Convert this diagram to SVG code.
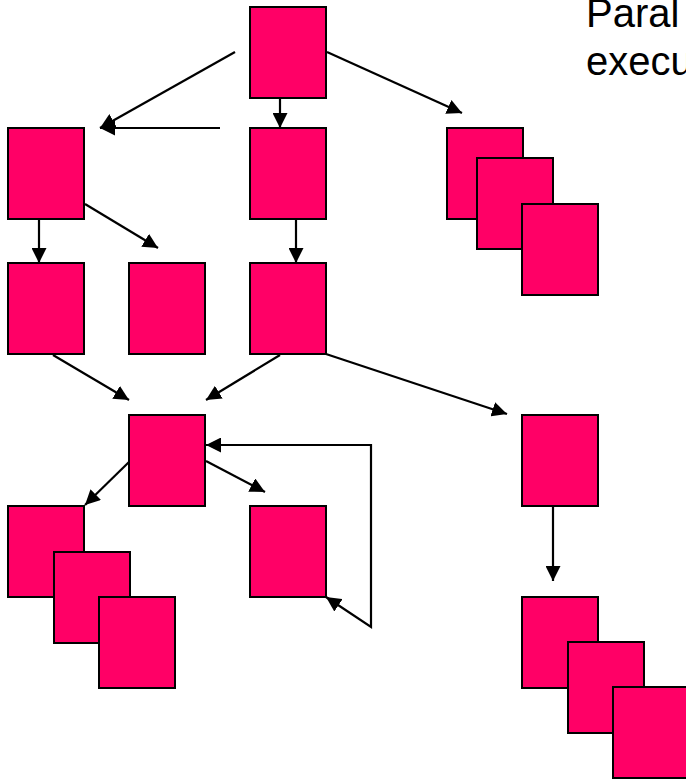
<svg xmlns="http://www.w3.org/2000/svg" width="686" height="780" viewBox="0 0 686 780">
  <style>
    .box { fill: #FF0066; stroke: #000; stroke-width: 2; }
    .edge { fill: none; stroke: #000; stroke-width: 2.2; }
    .label { font-family: "Liberation Sans", Arial, sans-serif; font-size: 40px; fill: #000; }
  </style>
  <defs>
    <marker id="arrow" markerUnits="userSpaceOnUse" markerWidth="16" markerHeight="15" refX="15" refY="7.5" orient="auto-start-reverse">
      <path d="M0,0 L15,7.5 L0,15 Z" fill="#000"/>
    </marker>
  </defs>
  <rect width="686" height="780" fill="#fff"/>

  <!-- title, running off the right edge -->
  <text class="label" x="586" y="27">Paral</text>
  <text class="label" x="586" y="75">execu</text>

  <!-- connectors -->
  <g id="connectors">
    <line class="edge" x1="235" y1="52" x2="100" y2="128" marker-end="url(#arrow)"/>
    <line class="edge" x1="220" y1="128" x2="100" y2="128" marker-end="url(#arrow)"/>
    <line class="edge" x1="280" y1="98" x2="280" y2="128" marker-end="url(#arrow)"/>
    <line class="edge" x1="327" y1="52" x2="462" y2="113" marker-end="url(#arrow)"/>
    <line class="edge" x1="39" y1="219" x2="39" y2="263" marker-end="url(#arrow)"/>
    <line class="edge" x1="85" y1="204" x2="158" y2="248" marker-end="url(#arrow)"/>
    <line class="edge" x1="296" y1="219" x2="296" y2="263" marker-end="url(#arrow)"/>
    <line class="edge" x1="53" y1="355" x2="129" y2="400" marker-end="url(#arrow)"/>
    <line class="edge" x1="280" y1="355" x2="206" y2="400" marker-end="url(#arrow)"/>
    <line class="edge" x1="326" y1="354" x2="507" y2="414" marker-end="url(#arrow)"/>
    <line class="edge" x1="129" y1="462" x2="85" y2="505" marker-end="url(#arrow)"/>
    <line class="edge" x1="206" y1="461" x2="265" y2="492" marker-end="url(#arrow)"/>
    <path class="edge" d="M326,597 L371,627 L371,445 L206,445" marker-start="url(#arrow)" marker-end="url(#arrow)"/>
    <line class="edge" x1="553" y1="506" x2="553" y2="581" marker-end="url(#arrow)"/>
  </g>

  <!-- nodes -->
  <g id="root"><rect class="box" x="250" y="7" width="76" height="91"/></g>
  <g id="left-a"><rect class="box" x="8" y="128" width="76" height="91"/></g>
  <g id="mid-a"><rect class="box" x="250" y="128" width="76" height="91"/></g>
  <g id="stack-top">
    <rect class="box" x="447" y="128" width="76" height="91"/>
    <rect class="box" x="477" y="158" width="76" height="91"/>
    <rect class="box" x="522" y="204" width="76" height="91"/>
  </g>
  <g id="left-b"><rect class="box" x="8" y="263" width="76" height="91"/></g>
  <g id="left-c"><rect class="box" x="129" y="263" width="76" height="91"/></g>
  <g id="mid-b"><rect class="box" x="250" y="263" width="76" height="91"/></g>
  <g id="join"><rect class="box" x="129" y="415" width="76" height="91"/></g>
  <g id="right-a"><rect class="box" x="522" y="415" width="76" height="91"/></g>
  <g id="loop"><rect class="box" x="250" y="506" width="76" height="91"/></g>
  <g id="stack-left">
    <rect class="box" x="8" y="506" width="76" height="91"/>
    <rect class="box" x="54" y="552" width="76" height="91"/>
    <rect class="box" x="99" y="597" width="76" height="91"/>
  </g>
  <g id="stack-right">
    <rect class="box" x="522" y="597" width="76" height="91"/>
    <rect class="box" x="568" y="642" width="76" height="91"/>
    <rect class="box" x="613" y="687" width="76" height="91"/>
  </g>
</svg>
